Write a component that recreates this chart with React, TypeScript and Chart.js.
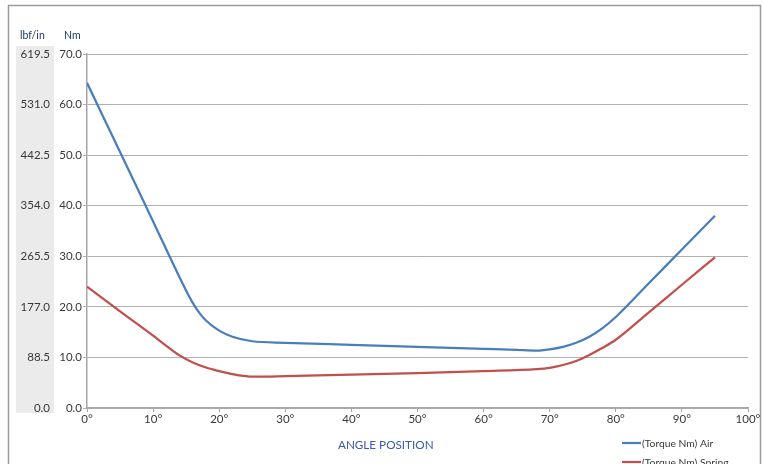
import React, { useEffect, useRef } from "react";
import { Chart, registerables } from "chart.js";

Chart.register(...registerables);

// ---- data ----
const airAngles = [0, 5, 10, 15, 16, 17, 18, 20, 22, 25, 30, 40, 50, 60, 65, 68, 70, 72, 74, 76, 78, 80, 85, 90, 95];
const airTorque = [64.3, 50.6, 36.9, 23.2, 20.8, 18.8, 17.3, 15.3, 14.1, 13.2, 12.9, 12.5, 12.1, 11.7, 11.5, 11.35, 11.6, 12.1, 12.9, 14.1, 15.8, 18.0, 24.67, 31.33, 38.0];

const springAngles = [0, 5, 10, 12, 14, 16, 18, 20, 22, 24, 25, 30, 40, 50, 60, 68, 70, 72, 74, 76, 78, 80, 85, 90, 95];
const springTorque = [24.0, 19.1, 14.3, 12.3, 10.4, 9.0, 8.0, 7.3, 6.7, 6.3, 6.2, 6.3, 6.6, 6.9, 7.3, 7.7, 7.95, 8.5, 9.3, 10.5, 11.9, 13.5, 18.93, 24.37, 29.8];

const seriesLabels = ["(Torque Nm) Air", "(Torque Nm) Spring"];
const seriesColors = ["#4a7ebb", "#c0504d"];

const nmTicks = [0, 10, 20, 30, 40, 50, 60, 70];
const lbfTicks = [0, 88.5, 177, 265.5, 354, 442.5, 531, 619.5];
const angleTicks = [0, 10, 20, 30, 40, 50, 60, 70, 80, 90, 100];

const FONT_FAMILY = "Lato, 'Open Sans', sans-serif";
const TEXT_COLOR = "#383838";

const decor = {
  id: "decor",
  beforeDraw(chart: any) {
    const ctx = chart.ctx;
    const ca = chart.chartArea;
    const y2 = chart.scales.y2;
    ctx.save();
    ctx.fillStyle = "#ebebeb";
    ctx.fillRect(y2.left, ca.top - 8, y2.right - y2.left, ca.bottom - ca.top + 13);
    ctx.strokeStyle = "#9a9a9a";
    ctx.lineWidth = 1.5;
    ctx.beginPath();
    ctx.moveTo(8.5, 470);
    ctx.lineTo(8.5, 5.5);
    ctx.lineTo(760.5, 5.5);
    ctx.lineTo(760.5, 470);
    ctx.stroke();
    ctx.restore();
  },
  afterDraw(chart: any) {
    const ctx = chart.ctx;
    const ca = chart.chartArea;
    const y2 = chart.scales.y2;
    ctx.save();
    ctx.fillStyle = "#1f3864";
    ctx.font = `10.5px ${FONT_FAMILY}`;
    ctx.textBaseline = "middle";
    ctx.textAlign = "left";
    ctx.fillText("lbf/in", y2.left + 4, 36);
    ctx.fillText("Nm", 64, 36);
    ctx.fillStyle = "#3a5ba8";
    ctx.font = `11.7px ${FONT_FAMILY}`;
    ctx.textAlign = "center";
    ctx.fillText("ANGLE POSITION", ca.left + (ca.right - ca.left) * 0.452, 445);
    ctx.font = `10.3px ${FONT_FAMILY}`;
    ctx.textAlign = "left";
    chart.data.datasets.forEach((ds: any, i: number) => {
      const y = 443 + i * 19;
      ctx.strokeStyle = ds.borderColor;
      ctx.lineWidth = 2.25;
      ctx.beginPath();
      ctx.moveTo(622, y);
      ctx.lineTo(641, y);
      ctx.stroke();
      ctx.fillStyle = TEXT_COLOR;
      ctx.fillText(ds.label, 642, y + 0.5);
    });
    ctx.restore();
  },
};

export default function App() {
  const ref = useRef<HTMLCanvasElement | null>(null);

  useEffect(() => {
    if (!ref.current) return;
    const font = { family: FONT_FAMILY, size: 11.5 };
    const chart = new Chart(ref.current, {
      type: "line",
      data: {
        datasets: [
          {
            label: seriesLabels[0],
            data: airAngles.map((x, i) => ({ x, y: airTorque[i] })),
            borderColor: seriesColors[0],
            backgroundColor: seriesColors[0],
            borderWidth: 2.25,
            pointRadius: 0,
            cubicInterpolationMode: "monotone",
            fill: false,
            yAxisID: "y",
          },
          {
            label: seriesLabels[1],
            data: springAngles.map((x, i) => ({ x, y: springTorque[i] })),
            borderColor: seriesColors[1],
            backgroundColor: seriesColors[1],
            borderWidth: 2.25,
            pointRadius: 0,
            cubicInterpolationMode: "monotone",
            fill: false,
            yAxisID: "y",
          },
        ],
      },
      options: {
        responsive: false,
        animation: false,
        layout: { padding: { left: 16, right: 15, top: 54, bottom: 36 } },
        plugins: { legend: { display: false }, tooltip: { enabled: false } },
        scales: {
          x: {
            type: "linear",
            min: 0,
            max: 100,
            afterBuildTicks: (s: any) => {
              s.ticks = angleTicks.map((v) => ({ value: v }));
            },
            ticks: {
              callback: (v: any) => `${v}°`,
              color: TEXT_COLOR,
              font,
              padding: 0,
              maxRotation: 0,
              autoSkip: false,
            },
            grid: { drawOnChartArea: false, drawTicks: true, tickLength: 4, color: "#a6a6a6" },
            border: { color: "#a6a6a6", width: 1.5 },
            afterFit: (s: any) => {
              s.height = 20;
            },
          },
          y: {
            type: "linear",
            position: "left",
            weight: 0,
            min: 0,
            max: 70,
            afterBuildTicks: (s: any) => {
              s.ticks = nmTicks.map((v) => ({ value: v }));
            },
            ticks: {
              callback: (v: any) => Number(v).toFixed(1),
              color: TEXT_COLOR,
              font,
              padding: 1,
            },
            grid: { color: "#b0b0b0", lineWidth: 1, tickLength: 4, drawTicks: true },
            border: { color: "#a6a6a6", width: 1.5 },
            afterFit: (s: any) => {
              s.width = 33;
            },
          },
          y2: {
            type: "linear",
            position: "left",
            weight: 1,
            min: 0,
            max: 619.5,
            afterBuildTicks: (s: any) => {
              s.ticks = lbfTicks.map((v) => ({ value: v }));
            },
            ticks: {
              callback: (v: any) => Number(v).toFixed(1),
              color: TEXT_COLOR,
              font,
              padding: 4,
            },
            grid: { display: false, drawTicks: false },
            border: { display: false },
            afterFit: (s: any) => {
              s.width = 38;
            },
          },
        },
      } as any,
      plugins: [decor],
    });
    return () => chart.destroy();
  }, []);

  return (
    <div style={{ position: "absolute", left: 0, top: 0, width: 763, height: 464, background: "#fff" }}>
      <canvas ref={ref} width={763} height={464} style={{ display: "block" }} />
    </div>
  );
}
